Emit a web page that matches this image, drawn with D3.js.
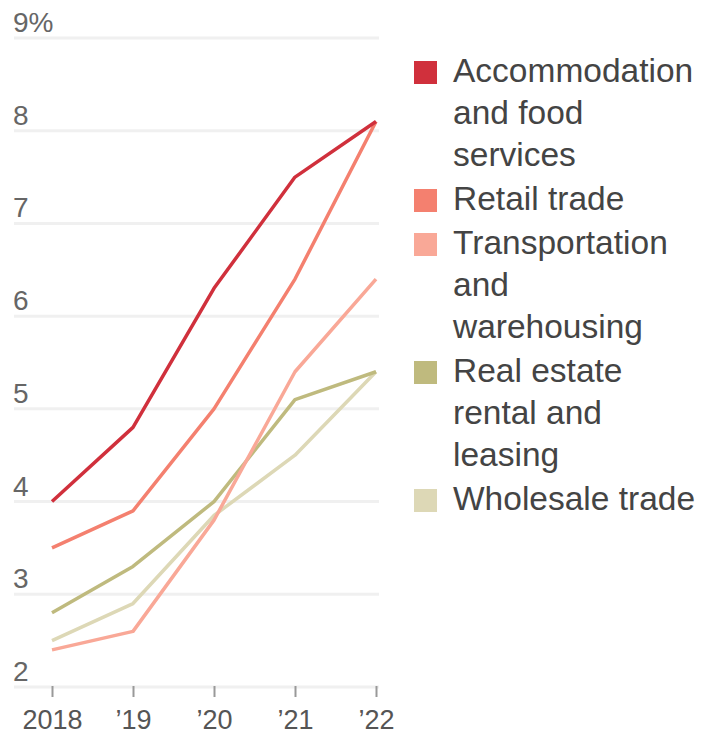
<!DOCTYPE html>
<html>
<head>
<meta charset="utf-8">
<script src="https://cdn.jsdelivr.net/npm/d3@7"></script>
<style>
  body { margin: 0; background: #fff; }
  text { font-family: "Liberation Sans", Arial, sans-serif; }
</style>
</head>
<body>
<div id="chart"></div>
<script>
// data
const years = [2018, 2019, 2020, 2021, 2022];
const yearLabels = ["2018", "\u201919", "\u201920", "\u201921", "\u201922"];
const yTicks = [2, 3, 4, 5, 6, 7, 8, 9];

const seriesNames = [
    ["Accommodation", "and food", "services"],
    ["Retail trade"],
    ["Transportation", "and", "warehousing"],
    ["Real estate", "rental and", "leasing"],
    ["Wholesale trade"]
];
const seriesColors = ["#d0303c", "#f4806f", "#f9a897", "#bfba7e", "#ddd8b6"];

const accommodation = [4.0, 4.8, 6.3, 7.5, 8.1];
const retail = [3.5, 3.9, 5.0, 6.4, 8.1];
const transportation = [2.4, 2.6, 3.8, 5.4, 6.4];
const realEstate = [2.8, 3.3, 4.0, 5.1, 5.4];
const wholesale = [2.5, 2.9, 3.85, 4.5, 5.4];

const seriesValues = [accommodation, retail, transportation, realEstate, wholesale];

const width = 701, height = 738;

const svg = d3.select("#chart").append("svg")
    .attr("width", width)
    .attr("height", height);

// scales
const x = d3.scaleLinear()
    .domain([2018, 2022])
    .range([52, 376]);

const y = d3.scaleLinear()
    .domain([2, 9])
    .range([687, 38]);

// gridlines
svg.append("g")
    .selectAll("line")
    .data(yTicks)
    .enter().append("line")
    .attr("x1", 14)
    .attr("x2", 379)
    .attr("y1", d => y(d))
    .attr("y2", d => y(d))
    .attr("stroke", "#f0f0f0")
    .attr("stroke-width", 3);

// y labels
svg.append("g")
    .selectAll("text")
    .data(yTicks)
    .enter().append("text")
    .attr("x", 13)
    .attr("y", d => y(d) - 6)
    .attr("font-size", "28px")
    .attr("fill", "#666")
    .text(d => d === 9 ? "9%" : d);

// x axis
const xAxis = d3.axisBottom(x)
    .tickValues(years)
    .tickSize(11)
    .tickPadding(13)
    .tickFormat((d, i) => yearLabels[i]);

const xAxisGroup = svg.append("g")
    .attr("transform", "translate(0," + (y(2) - 1) + ")")
    .call(xAxis);

xAxisGroup.select(".domain").remove();
xAxisGroup.selectAll("line")
    .attr("stroke", "#999")
    .attr("stroke-width", 2);
xAxisGroup.selectAll("text")
    .attr("font-size", "27px")
    .attr("fill", "#555")
    .attr("font-family", "Liberation Sans, Arial, sans-serif");

// lines (draw light ones first so dark red is on top)
const line = d3.line()
    .x((d, i) => x(years[i]))
    .y(d => y(d));

const order = [4, 3, 2, 1, 0];
svg.append("g")
    .selectAll("path")
    .data(order)
    .enter().append("path")
    .attr("d", i => line(seriesValues[i]))
    .attr("fill", "none")
    .attr("stroke", i => seriesColors[i])
    .attr("stroke-width", 3.5)
    .attr("stroke-linejoin", "round");

// legend
const lineH = 42, groupGap = 44;
let baseline = 82;
const legend = svg.append("g");
seriesNames.forEach((lines, i) => {
    legend.append("rect")
        .attr("x", 414)
        .attr("y", baseline - 21)
        .attr("width", 23)
        .attr("height", 23)
        .attr("fill", seriesColors[i]);
    lines.forEach((t, j) => {
        legend.append("text")
            .attr("x", 453)
            .attr("y", baseline + j * lineH)
            .attr("font-size", "33.5px")
            .attr("fill", "#444")
            .text(t);
    });
    baseline += (lines.length - 1) * lineH + groupGap;
});
</script>
</body>
</html>
